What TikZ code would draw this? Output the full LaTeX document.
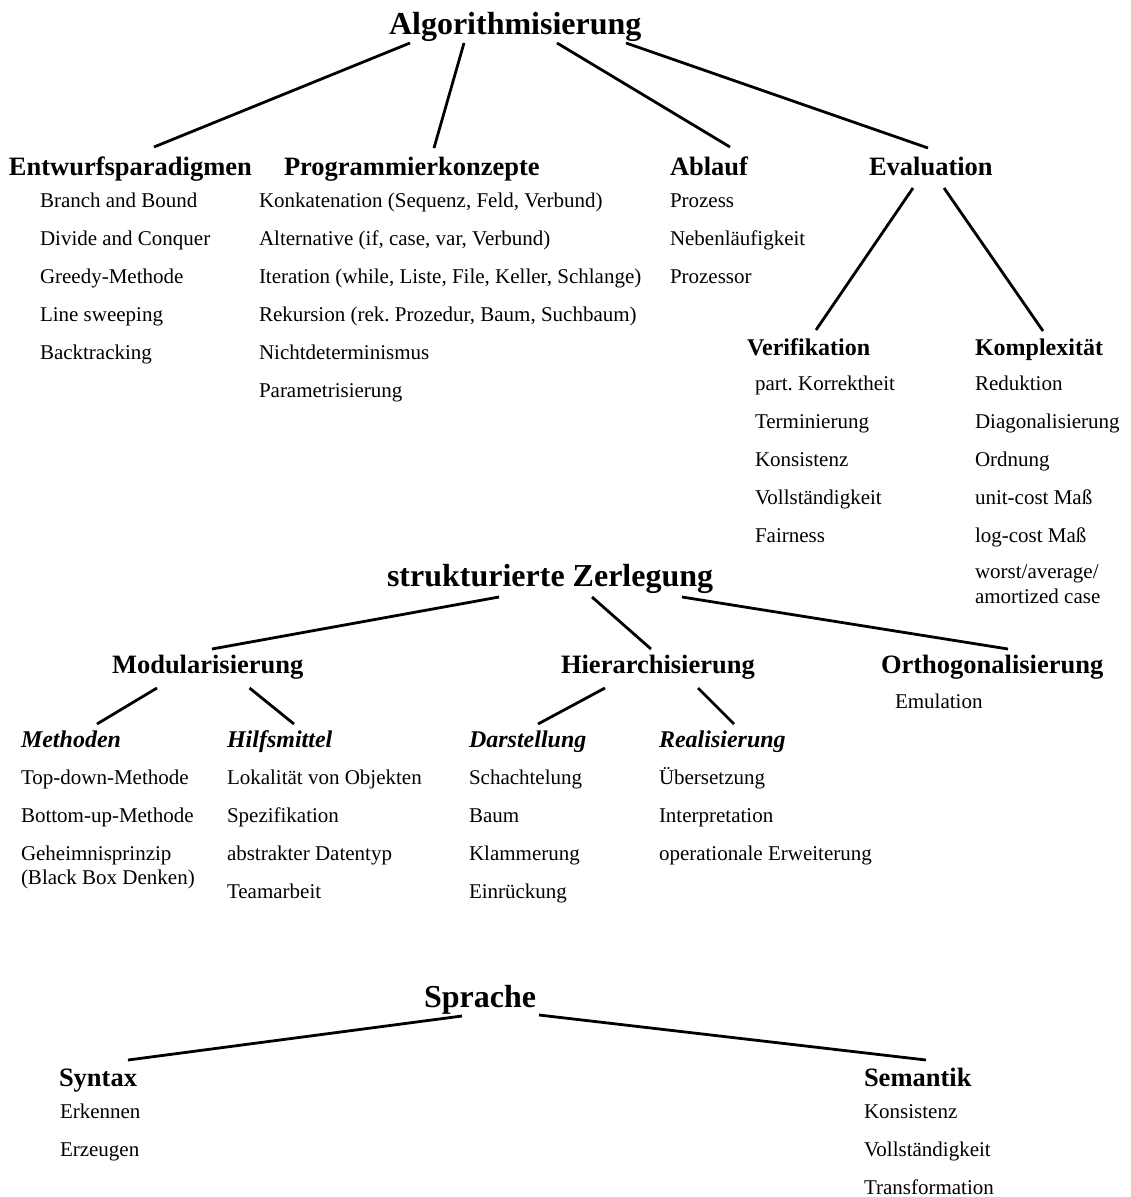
\documentclass[tikz,border=0pt]{standalone}
\usepackage{fontspec}
\setmainfont{Liberation Serif}
\frenchspacing
\begin{document}
\begin{tikzpicture}[x=1pt,y=-1pt,
  base/.style={anchor=base west,inner sep=0pt,outer sep=0pt},
  title/.style={base,font=\fontsize{32}{36}\selectfont\bfseries},
  head/.style={base,font=\fontsize{26.5}{30}\selectfont\bfseries},
  sub/.style={base,font=\fontsize{24}{28}\selectfont\bfseries},
  ital/.style={base,font=\fontsize{24}{28}\selectfont\bfseries\itshape},
  item/.style={base,font=\fontsize{21}{25}\selectfont},
  conn/.style={line width=2.8pt}]
\useasboundingbox (0,0) rectangle (1131,1197);

% ---------- Algorithmisierung ----------
\node[title] (alg) at (389,34) {Algorithmisierung};
\node[head] (entw) at (9,175) {Entwurfsparadigmen};
\node[head] (prog) at (284,175) {Programmierkonzepte};
\node[head] (abl) at (670,175) {Ablauf};
\node[head] (eval) at (869,175) {Evaluation};
\node[sub] (verif) at (747,355) {Verifikation};
\node[sub] (kompl) at (975,355) {Komplexität};

\foreach \t [count=\i] in {Branch and Bound, Divide and Conquer, Greedy-Methode, Line sweeping, Backtracking}
  \node[item] (entw-\i) at (40,{207+38*(\i-1)}) {\t};
\foreach \t [count=\i] in {{Konkatenation (Sequenz, Feld, Verbund)}, {Alternative (if, case, var, Verbund)}, {Iteration (while, Liste, File, Keller, Schlange)}, {Rekursion (rek. Prozedur, Baum, Suchbaum)}, Nichtdeterminismus, Parametrisierung}
  \node[item] (prog-\i) at (259,{207+38*(\i-1)}) {\t};
\foreach \t [count=\i] in {Prozess, Nebenläufigkeit, Prozessor}
  \node[item] (abl-\i) at (670,{207+38*(\i-1)}) {\t};
\foreach \t [count=\i] in {part. Korrektheit, Terminierung, Konsistenz, Vollständigkeit, Fairness}
  \node[item] (verif-\i) at (755,{390+38*(\i-1)}) {\t};
\foreach \t [count=\i] in {Reduktion, Diagonalisierung, Ordnung, unit-cost Maß, log-cost Maß}
  \node[item] (kompl-\i) at (975,{390+38*(\i-1)}) {\t};
\node[item] (kompl-6) at (975,578) {worst/average/};
\node[item] (kompl-7) at (975,603) {amortized case};

\draw[conn] ([shift={(21,9)}]alg.base west) -- ([shift={(145,-28)}]entw.base west);
\draw[conn] ([shift={(75,9)}]alg.base west) -- ([shift={(150,-27)}]prog.base west);
\draw[conn] ([shift={(168,9)}]alg.base west) -- ([shift={(60,-28)}]abl.base west);
\draw[conn] ([shift={(237,9)}]alg.base west) -- ([shift={(59,-27)}]eval.base west);
\draw[conn] ([shift={(44,13)}]eval.base west) -- ([shift={(69,-25)}]verif.base west);
\draw[conn] ([shift={(75,13)}]eval.base west) -- ([shift={(68,-24)}]kompl.base west);

% ---------- strukturierte Zerlegung ----------
\node[title] (sz) at (387,586) {strukturierte Zerlegung};
\node[head] (modul) at (112,673) {Modularisierung};
\node[head] (hier) at (561,673) {Hierarchisierung};
\node[head] (orth) at (881,673) {Orthogonalisierung};
\node[item] (orth-1) at (895,708) {Emulation};
\node[ital] (meth) at (21,747) {Methoden};
\node[ital] (hilf) at (227,747) {Hilfsmittel};
\node[ital] (darst) at (469,747) {Darstellung};
\node[ital] (real) at (659,747) {Realisierung};

\node[item] (meth-1) at (21,784) {Top-down-Methode};
\node[item] (meth-2) at (21,822) {Bottom-up-Methode};
\node[item] (meth-3) at (21,860) {Geheimnisprinzip};
\node[item] (meth-4) at (21,884) {(Black Box Denken)};
\foreach \t [count=\i] in {Lokalität von Objekten, Spezifikation, abstrakter Datentyp, Teamarbeit}
  \node[item] (hilf-\i) at (227,{784+38*(\i-1)}) {\t};
\foreach \t [count=\i] in {Schachtelung, Baum, Klammerung, Einrückung}
  \node[item] (darst-\i) at (469,{784+38*(\i-1)}) {\t};
\foreach \t [count=\i] in {Übersetzung, Interpretation, operationale Erweiterung}
  \node[item] (real-\i) at (659,{784+38*(\i-1)}) {\t};

\draw[conn] ([shift={(112,11)}]sz.base west) -- ([shift={(100,-24)}]modul.base west);
\draw[conn] ([shift={(205,11)}]sz.base west) -- ([shift={(90,-24)}]hier.base west);
\draw[conn] ([shift={(295,11)}]sz.base west) -- ([shift={(127,-24)}]orth.base west);
\draw[conn] ([shift={(45,15)}]modul.base west) -- ([shift={(76,-23)}]meth.base west);
\draw[conn] ([shift={(137.5,15)}]modul.base west) -- ([shift={(67,-23)}]hilf.base west);
\draw[conn] ([shift={(44,15)}]hier.base west) -- ([shift={(69,-23)}]darst.base west);
\draw[conn] ([shift={(137,15)}]hier.base west) -- ([shift={(75,-23)}]real.base west);

% ---------- Sprache ----------
\node[title] (sprache) at (424,1007) {Sprache};
\node[head] (syntax) at (59,1086) {Syntax};
\node[head] (sem) at (864,1086) {Semantik};
\foreach \t [count=\i] in {Erkennen, Erzeugen}
  \node[item] (syntax-\i) at (60,{1118+38*(\i-1)}) {\t};
\foreach \t [count=\i] in {Konsistenz, Vollständigkeit, Transformation}
  \node[item] (sem-\i) at (864,{1118+38*(\i-1)}) {\t};

\draw[conn] ([shift={(38,9)}]sprache.base west) -- ([shift={(69,-26)}]syntax.base west);
\draw[conn] ([shift={(115,8)}]sprache.base west) -- ([shift={(62,-26)}]sem.base west);
\end{tikzpicture}
\end{document}
